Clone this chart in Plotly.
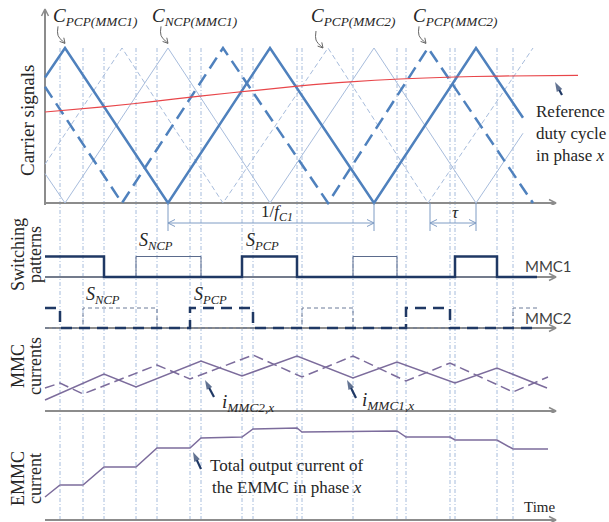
import math
import plotly.graph_objects as go

W, H = 609, 522

# ---------------- data (time in µs, carrier period ≈ 206 µs) ----------------
# carrier vertices (normalised 0..1)
pcp1_t = [0, 20, 123, 225, 329, 431, 478]
pcp1_v = [0.81, 1.0, 0.0, 1.0, 0.0, 1.0, 0.55]
ncp1_t = [0, 20, 123, 225, 329, 431, 478]
ncp1_v = [0.19, 0.0, 1.0, 0.0, 1.0, 0.0, 0.45]
pcp2_t = [0, 77, 178, 283, 383, 488]
pcp2_v = [0.75, 0.0, 1.0, 0.0, 1.0, 0.0]
ncp2_t = [0, 77, 178, 283, 383, 488]
ncp2_v = [0.25, 1.0, 0.0, 1.0, 0.0, 1.0]

# reference duty cycle in phase x
ref_t = [0, 55, 105, 155, 205, 255, 305, 355, 410, 455, 533]
ref_v = [0.587, 0.619, 0.652, 0.690, 0.723, 0.755, 0.781, 0.800, 0.813, 0.819, 0.823]

# switching instants (carrier / reference crossings)
switch_t = [15, 38, 59, 91, 112, 145, 156, 197, 208, 252, 257, 308, 352, 361, 405, 410, 452, 468]

# switching patterns
mmc1_pcp_t = [0, 59, 197, 252, 410, 452, 492]
mmc1_pcp_s = [1, 0, 1, 0, 1, 0, 0]
mmc1_ncp_t = [0, 91, 156, 308, 352, 492]
mmc1_ncp_s = [0, 1, 0, 1, 0, 0]
mmc2_pcp_t = [0, 15, 145, 208, 361, 405, 488]
mmc2_pcp_s = [1, 0, 1, 0, 1, 0, 0]
mmc2_ncp_t = [0, 38, 112, 257, 308, 468, 493]
mmc2_ncp_s = [0, 1, 0, 1, 0, 1, 1]

# MMC currents (a.u.)
i1_t = [0, 59, 91, 156, 197, 252, 308, 352, 410, 452, 502]
i1_v = [1.1, 3.7, 2.4, 5.0, 3.5, 5.5, 3.3, 4.9, 2.8, 4.3, 2.3]
i2_t = [0, 15, 38, 112, 145, 208, 257, 308, 361, 405, 468, 503]
i2_v = [2.3, 2.8, 1.7, 4.6, 3.2, 5.6, 3.4, 5.5, 3.0, 4.8, 1.9, 3.4]

# total EMMC output current (a.u.)
ie_t = [0, 15, 38, 59, 91, 112, 145, 156, 197, 208, 252, 257, 352, 361, 405, 410, 452, 468, 503]
ie_v = [2.3, 3.5, 3.5, 5.3, 5.3, 7.2, 7.2, 8.2, 8.3, 9.1, 9.2, 8.8, 8.9, 8.3, 8.3, 8.0, 8.0, 7.1, 7.1]

# dimension markers: carrier period and phase shift tau
period_span = [123, 329]
tau_span = [385, 431]
t_end = 510

# ---------------- styling ----------------
SERIF = "Liberation Serif"
SANS = "Lato"
BLUE = "#4f81bd"
LBLUE = "#a7bcdc"
NAVY = "#1f3864"
PURP = "#7c6c9c"
AXC = "#8c8c8c"
GRID = "#a6bcdc"
DIMC = "#7f9cc4"
TXT = "#262626"

# panels: (pixel top, pixel bottom, pixel of value 0, pixels per unit)
PANELS = {
    "y":  (0, 205, 203, 155.0),
    "y2": (205, 290, 277, 20.5),
    "y3": (290, 335, 328, 20.0),
    "y4": (335, 413, 411, 10.0),
    "y5": (413, 522, 520, 10.0),
}


def px(xp):
    return xp / W


def py(yp):
    return 1 - yp / H


def dom(name):
    top, bot, _, _ = PANELS[name]
    return [1 - bot / H, 1 - top / H]


def rng(name):
    top, bot, zero, ppu = PANELS[name]
    return [(zero - bot) / ppu, (zero - top) / ppu]


def shift(yax, x, y, dxp, dyp):
    """Offset a data point by screen pixels (dyp positive = downwards)."""
    return x + dxp, y - dyp / PANELS[yax][3]


fig = go.Figure()


def line(x, y, yax, **ln):
    fig.add_trace(go.Scatter(x=x, y=y, mode="lines", yaxis=yax, line=ln,
                             hoverinfo="skip", cliponaxis=False))


def chevron(yax, xt, yt, dirx, diry, color, width=1.2, length=7, half=3.5):
    n = math.hypot(dirx, diry)
    ux, uy = dirx / n, diry / n
    bx, by = -ux * length, -uy * length
    p1 = shift(yax, xt, yt, bx - uy * half, by + ux * half)
    p2 = shift(yax, xt, yt, bx + uy * half, by - ux * half)
    line([p1[0], xt, p2[0]], [p1[1], yt, p2[1]], yax, color=color, width=width)


def pointer(yax, xt, yt, dxp, dyp, color=NAVY, width=2.2):
    tx, ty = shift(yax, xt, yt, dxp, dyp)
    fig.add_trace(go.Scatter(x=[tx, xt], y=[ty, yt], mode="lines+markers", yaxis=yax,
                             line=dict(color=color, width=width),
                             marker=dict(symbol="arrow", size=[0, 10], angleref="previous",
                                         color=color, line=dict(width=0)),
                             hoverinfo="skip", cliponaxis=False))


def hook(yax, xt, yt, color="#666666"):
    a = shift(yax, xt, yt, -7, -17)
    b = shift(yax, xt, yt, -7, -8)
    line([a[0], b[0], xt], [a[1], b[1], yt], yax, color=color, width=1, shape="spline")
    chevron(yax, xt, yt, 7, 8, color, width=1, length=5, half=2.8)


# axis lines (drawn first so the signals sit on top)
line([0, 0], [rng("y5")[0], (PANELS["y"][2] - 10) / PANELS["y"][3]], "y", color=AXC, width=2)
for ax_name in PANELS:
    line([0, t_end], [0, 0], ax_name, color=AXC, width=2)

# carriers
line(ncp1_t, ncp1_v, "y", color=LBLUE, width=1)
line(ncp2_t, ncp2_v, "y", color=LBLUE, width=1, dash="5px,3px")
line(pcp1_t, pcp1_v, "y", color=BLUE, width=2.5)
line(pcp2_t, pcp2_v, "y", color=BLUE, width=2.5, dash="13px,7px")
line(ref_t, ref_v, "y", color="#e8464a", width=1.2, shape="spline")

# switching patterns
line(mmc1_ncp_t, mmc1_ncp_s, "y2", color="#5b6b8c", width=1, shape="hv")
line(mmc1_pcp_t, mmc1_pcp_s, "y2", color=NAVY, width=2.5, shape="hv")
line(mmc2_ncp_t, mmc2_ncp_s, "y3", color="#6b7a98", width=1, shape="hv", dash="4px,3px")
line(mmc2_pcp_t, mmc2_pcp_s, "y3", color=NAVY, width=2.5, shape="hv", dash="11px,7px")

# currents
line(i2_t, i2_v, "y4", color=PURP, width=1.5, dash="10px,5px")
line(i1_t, i1_v, "y4", color=PURP, width=1.5)
line(ie_t, ie_v, "y5", color=PURP, width=1.5)

# axis arrowheads
chevron("y", 0, (PANELS["y"][2] - 9) / PANELS["y"][3], 0, -1, AXC, width=1.5)
for ax_name in PANELS:
    chevron(ax_name, t_end + 1, 0, 1, 0, AXC, width=1.5)

# carrier period / tau dimension arrows
y_dim = (PANELS["y2"][2] - 223) / PANELS["y2"][3]
for span in (period_span, tau_span):
    line(span, [y_dim, y_dim], "y2", color=DIMC, width=1)
    chevron("y2", span[0], y_dim, -1, 0, DIMC, width=1)
    chevron("y2", span[1], y_dim, 1, 0, DIMC, width=1)

shapes = []
for span in (period_span, tau_span):
    for t in span:
        shapes.append(dict(type="line", xref="x", yref="paper", x0=t, x1=t,
                           y0=py(231), y1=py(203), line=dict(color=DIMC, width=1)))

# switching instants
for t in switch_t:
    shapes.append(dict(type="line", xref="x", yref="paper", x0=t, x1=t,
                       y0=py(520), y1=py(47), layer="below",
                       line=dict(color=GRID, width=1, dash="4px,2px,1px,2px")))

annos = []


def label(x, y, text, size=17, color=TXT, font=SERIF, angle=0, **kw):
    d = dict(x=px(x), y=py(y), xref="paper", yref="paper", text=text, showarrow=False,
             font=dict(family=font, size=size, color=color), textangle=angle,
             xanchor="center", yanchor="middle")
    d.update(kw)
    annos.append(d)


# axis titles (two-line titles set line by line for tight spacing)
label(28, 121, "Carrier signals", size=19, angle=-90)
label(18, 255, "Switching", size=18, angle=-90)
label(35, 255, "patterns", size=18, angle=-90)
label(18, 366, "MMC", size=18, angle=-90)
label(35, 366, "currents", size=18, angle=-90)
label(18, 479, "EMMC", size=18, angle=-90)
label(35, 479, "current", size=18, angle=-90)

# carrier labels
label(95, 17, "<i>C<sub>PCP(MMC1)</sub></i>", size=19)
label(195, 17, "<i>C<sub>NCP(MMC1)</sub></i>", size=19)
label(353, 17, "<i>C<sub>PCP(MMC2)</sub></i>", size=19)
label(455, 17, "<i>C<sub>PCP(MMC2)</sub></i>", size=19)
hook("y", pcp1_t[1], 1.03)
hook("y", ncp1_t[2], 1.03)
hook("y", ncp2_t[3] - 5, 1.0)
hook("y", pcp2_t[4] - 2, 1.03)

label(571, 134, "Reference<br>duty cycle<br>in phase <i>x</i>", size=17, align="left")
pointer("y", 510, 0.78, 7, 13)

label(277, 213, "1/<i>f</i><sub><i>C1</i></sub>", size=17)
label(455, 212, "<i>τ</i>", size=17)

# switching labels
label(156, 241, "<i>S<sub>NCP</sub></i>", size=18)
label(262, 241, "<i>S<sub>PCP</sub></i>", size=18)
label(103, 295, "<i>S<sub>NCP</sub></i>", size=18)
label(210, 295, "<i>S<sub>PCP</sub></i>", size=18)
label(548, 266, "MMC1", size=15, color="#3f3f3f", font=SANS)
label(548, 318, "MMC2", size=15, color="#3f3f3f", font=SANS)

# current labels
label(248, 403, "<i>i<sub>MMC2,x</sub></i>", size=19)
pointer("y4", 160, 3.1, 9, 17)
label(388, 401, "<i>i<sub>MMC1,x</sub></i>", size=19)
pointer("y4", 302, 3.1, 9, 18)
label(287, 476, "Total output current of<br>the EMMC in phase <i>x</i>", size=17)
pointer("y5", 148, 6.8, 8, 17)
label(539, 507, "Time", size=15)

hidden = dict(visible=False, fixedrange=True)
fig.update_layout(
    width=W, height=H, margin=dict(l=0, r=0, t=0, b=0),
    paper_bgcolor="white", plot_bgcolor="white", showlegend=False,
    xaxis=dict(hidden, range=[-45, W - 45], domain=[0, 1]),
    yaxis=dict(hidden, domain=dom("y"), range=rng("y")),
    yaxis2=dict(hidden, domain=dom("y2"), range=rng("y2"), anchor="x"),
    yaxis3=dict(hidden, domain=dom("y3"), range=rng("y3"), anchor="x"),
    yaxis4=dict(hidden, domain=dom("y4"), range=rng("y4"), anchor="x"),
    yaxis5=dict(hidden, domain=dom("y5"), range=rng("y5"), anchor="x"),
    shapes=shapes, annotations=annos,
)

fig.write_html("out.html")
